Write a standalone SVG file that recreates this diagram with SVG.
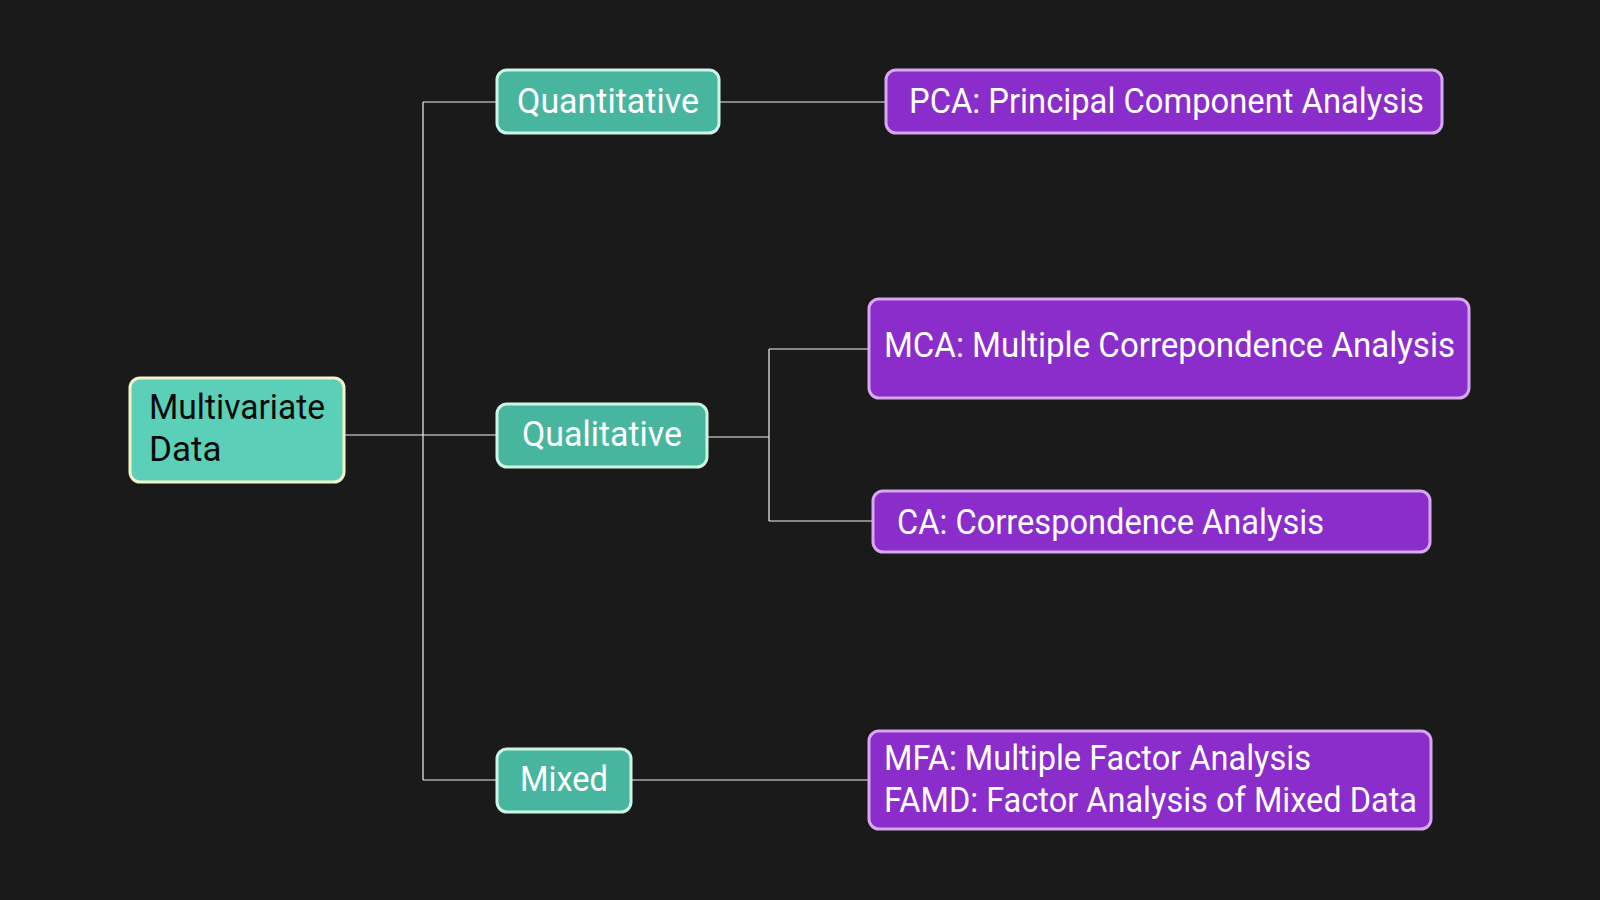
<svg xmlns="http://www.w3.org/2000/svg" width="1600" height="900" viewBox="0 0 1600 900">
<style>
.bg{fill:#1a1a1a}
.root rect{fill:#5bcfb8;stroke:#f4f5c6;stroke-width:3}
.mid rect{fill:#48b59e;stroke:#cdf5e6;stroke-width:3}
.leaf rect{fill:#8a2dca;stroke:#d6a8f0;stroke-width:3}
text{font-family:"Roboto","Liberation Sans",sans-serif;font-size:35px}
.root text{fill:#0a0a0a}
.mid text,.leaf text{fill:#ffffff}
.conn path{fill:none;stroke:#f2f2f2;stroke-width:1.2}
</style>
<rect class="bg" x="0" y="0" width="1600" height="900"/>
<g class="conn" id="connectors">
<path d="M344 435H497"/>
<path d="M423 102V780"/>
<path d="M423 102H497"/>
<path d="M423 780H497"/>
<path d="M719 102H886"/>
<path d="M707 437H769M769 349V521M769 349H869M769 521H873"/>
<path d="M631 780H869"/>
</g>
<g class="root" id="multivariate">
<rect x="130" y="378" width="214" height="104" rx="10"/>
<text x="149" y="419" textLength="176" lengthAdjust="spacingAndGlyphs">Multivariate</text>
<text x="149" y="461">Data</text>
</g>
<g class="mid" id="quantitative">
<rect x="497" y="70" width="222" height="63" rx="10"/>
<text x="517" y="113" textLength="182" lengthAdjust="spacingAndGlyphs">Quantitative</text>
</g>
<g class="mid" id="qualitative">
<rect x="497" y="404" width="210" height="63" rx="10"/>
<text x="522" y="446" textLength="160" lengthAdjust="spacingAndGlyphs">Qualitative</text>
</g>
<g class="mid" id="mixed">
<rect x="497" y="749" width="134" height="63" rx="10"/>
<text x="520" y="791" textLength="88" lengthAdjust="spacingAndGlyphs">Mixed</text>
</g>
<g class="leaf" id="pca">
<rect x="886" y="70" width="556" height="63" rx="10"/>
<text x="909" y="113" textLength="515" lengthAdjust="spacingAndGlyphs">PCA: Principal Component Analysis</text>
</g>
<g class="leaf" id="mca">
<rect x="869" y="299" width="600" height="99" rx="10"/>
<text x="884" y="357" textLength="571" lengthAdjust="spacingAndGlyphs">MCA: Multiple Correpondence Analysis</text>
</g>
<g class="leaf" id="ca">
<rect x="873" y="491" width="557" height="61" rx="10"/>
<text x="897" y="534" textLength="427" lengthAdjust="spacingAndGlyphs">CA: Correspondence Analysis</text>
</g>
<g class="leaf" id="mfa-famd">
<rect x="869" y="731" width="562" height="98" rx="10"/>
<text x="884" y="770" textLength="427" lengthAdjust="spacingAndGlyphs">MFA: Multiple Factor Analysis</text>
<text x="884" y="812" textLength="533" lengthAdjust="spacingAndGlyphs">FAMD: Factor Analysis of Mixed Data</text>
</g>
</svg>
